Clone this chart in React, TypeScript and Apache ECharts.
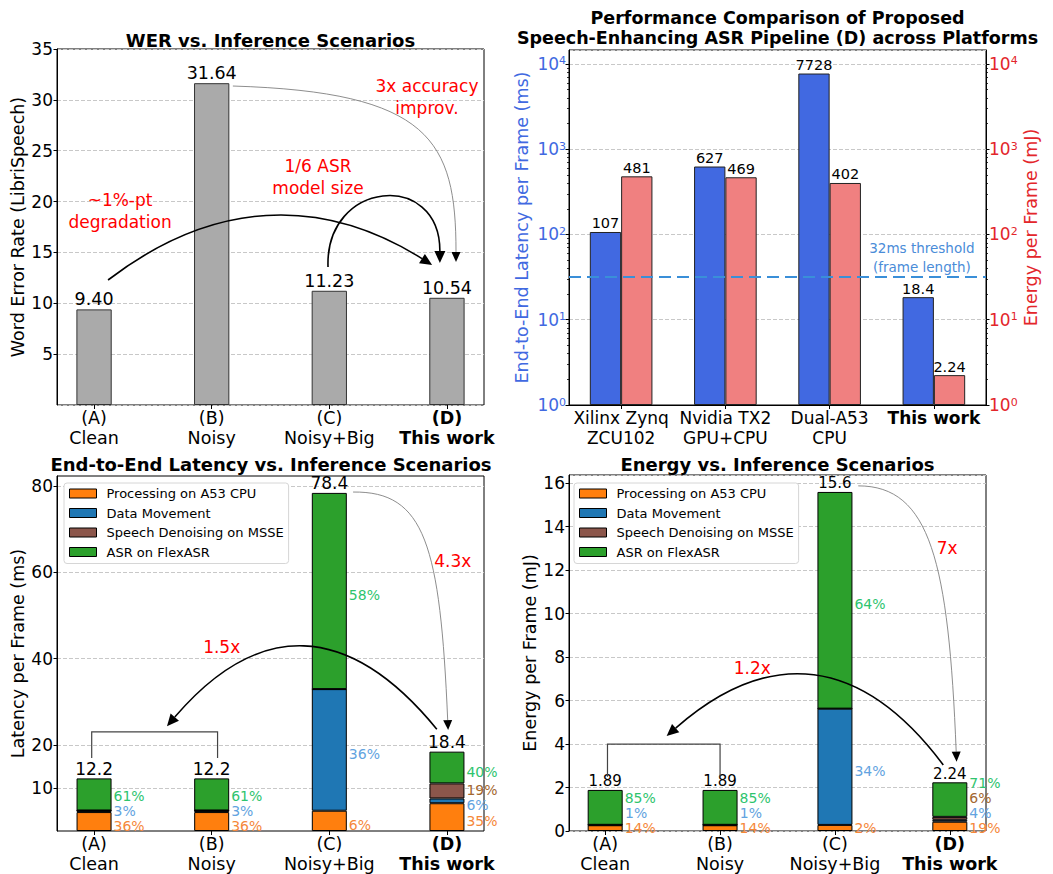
import React, { useEffect, useRef } from 'react';
import * as echarts from 'echarts';

const FONT = 'DejaVu Sans';

// ---------------- data ----------------
const scenarioCodes = ['(A)', '(B)', '(C)', '(D)'];
const scenarioNames = ['Clean', 'Noisy', 'Noisy+Big', 'This work'];
const werValues = [9.40, 31.64, 11.23, 10.54];

const platformNames = ['Xilinx Zynq\nZCU102', 'Nvidia TX2\nGPU+CPU', 'Dual-A53\nCPU', 'This work'];
const platformLatencyMs = [107, 627, 7728, 18.4];
const platformEnergyMj = [481, 469, 402, 2.24];
const frameThresholdMs = 32;

const componentNames = ['Processing on A53 CPU', 'Data Movement', 'Speech Denoising on MSSE', 'ASR on FlexASR'];
const latencyCpu = [4.39, 4.39, 4.70, 6.44];
const latencyMove = [0.37, 0.37, 28.2, 1.10];
const latencyDenoise = [0, 0, 0, 3.50];
const latencyAsr = [7.44, 7.44, 45.5, 7.36];
const latencyTicks = [10, 20, 40, 60, 80];

const energyCpu = [0.265, 0.265, 0.28, 0.426];
const energyMove = [0.019, 0.019, 5.35, 0.09];
const energyDenoise = [0, 0, 0, 0.134];
const energyAsr = [1.606, 1.606, 9.97, 1.59];

const latencyParts = [latencyCpu, latencyMove, latencyDenoise, latencyAsr];
const energyParts = [energyCpu, energyMove, energyDenoise, energyAsr];

// log-axis minor tick positions (2..9 x 10^d)
const logDecades = [1, 10, 100, 1000];
const logMinorMultipliers = [2, 3, 4, 5, 6, 7, 8, 9];
const logMinorTicks = logDecades.flatMap((d) => logMinorMultipliers.map((m) => m * d));

// ---------------- styles / layout ----------------
const componentColors = ['#ff7f0e', '#1f77b4', '#8c564b', '#2ca02c'];
const pctColors = ['#f5883a', '#62a3e0', '#a3672f', '#2ec46e'];
const BLUE = '#4169e1';
const RED = '#e3262b';
const gridLine = { show: true, lineStyle: { color: '#c8c8c8', type: [4, 2], width: 1 } };
const X_MIN = -0.315;
const X_MAX = 3.315;
const LOG_MAX = 14588;

const FRAME_TL = { left: 57, top: 49, width: 427, height: 356 };
const FRAME_TR = { left: 569, top: 50, width: 417, height: 355 };
const FRAME_BL = { left: 57, top: 476, width: 427, height: 355 };
const FRAME_BR = { left: 569, top: 475, width: 417, height: 356 };

// band grid so that category centres fall at 0..3 of the frame's [-0.315, 3.315] range
function bandGrid(f: any) {
  const unit = f.width / (X_MAX - X_MIN);
  const left = f.left + (0 - X_MIN) * unit - unit / 2;
  return { left, top: f.top, width: unit * 4, height: f.height, show: false };
}

// annotations (data coordinates; control offsets in px)
const annotationTexts = [
  { grid: 0, at: [2.83, 30.3], text: '3x accuracy\nimprov.' },
  { grid: 0, at: [0.221, 19.07], text: '~1%-pt\ndegradation' },
  { grid: 0, at: [1.904, 22.37], text: '1/6 ASR\nmodel size' },
  { grid: 2, at: [3.05, 62.6], text: '4.3x' },
  { grid: 2, at: [1.085, 42.6], text: '1.5x' },
  { grid: 3, at: [2.977, 13.04], text: '7x' },
  { grid: 3, at: [1.28, 7.49], text: '1.2x' },
];
const connectors: any[] = [
  { grid: 0, from: [1.18, 31.36], to: [3.077, 14.06], c1: [197, 6], c2: [0, -122], thin: true },
  { grid: 0, from: [0.119, 12.29], to: [2.874, 13.77], bend: 0.347 },
  { grid: 0, from: [1.989, 13.57], to: [2.94, 13.96], c1: [-3, -87], c2: [0, -93] },
  { grid: 2, from: [2.202, 78.6], to: [3.01, 23.4], c1: [72, -1], c2: [-8, -185], thin: true },
  { grid: 2, from: [2.914, 23.6], to: [0.62, 24.3], bend: -0.598 },
  { grid: 3, from: [2.203, 15.88], to: [3.059, 3.19], c1: [72, 0], c2: [-8, -200], thin: true },
  { grid: 3, from: [2.943, 3.04], to: [0.535, 4.37], bend: -0.54 },
];
const brackets = [
  { grid: 2, x: [-0.02, 1.05], top: 23.0, bottom: 16.9 },
  { grid: 3, x: [0.02, 1.0], top: 4.0, bottom: 2.5 },
];

function sumParts(parts: number[][]) {
  return parts[0].map((_, i) => parts.reduce((s, p) => s + p[i], 0));
}

const scenarioCats = scenarioCodes.map((c, i) => c + '\n' + scenarioNames[i]);

function scenarioLabel(_v: string, i: number) {
  if (i === 3) return `{b|${scenarioCodes[i]}}\n{b|${scenarioNames[i]}}`;
  return `${scenarioCodes[i]}\n${scenarioNames[i]}`;
}

function hiddenFrameX(gridIndex: number) {
  return { type: 'value', gridIndex, min: X_MIN, max: X_MAX, show: false, splitLine: { show: false } };
}

function scenarioAxis(gridIndex: number) {
  return {
    type: 'category', gridIndex, data: scenarioCats,
    axisLine: { show: false },
    axisTick: { show: true, alignWithLabel: true, length: 4, lineStyle: { color: '#000' } },
    axisLabel: {
      interval: 0, formatter: scenarioLabel, fontSize: 17.5, color: '#000', lineHeight: 20, margin: 3,
      fontFamily: FONT,
      rich: { b: { fontWeight: 'bold', fontSize: 17.5, lineHeight: 20, fontFamily: FONT, color: '#000' } },
    },
    splitLine: { show: false },
  };
}

function frameY(gridIndex: number, extra: any) {
  return {
    type: 'value', gridIndex,
    axisLine: { show: true, onZero: false, lineStyle: { color: '#000', width: 1 } },
    axisTick: { show: true, length: 3.5, lineStyle: { color: '#000' } },
    axisLabel: { fontSize: 17, color: '#000', margin: 4, fontFamily: FONT },
    splitLine: gridLine,
    nameLocation: 'middle',
    nameTextStyle: { fontSize: 17.5, color: '#000', fontFamily: FONT },
    ...extra,
  };
}

function hiddenY(gridIndex: number, max: number) {
  return { type: 'value', gridIndex, min: 0, max, show: false, splitLine: { show: false } };
}

function logAxis(gridIndex: number, color: string, position: string, name: string, nameGap: number, split: boolean) {
  return {
    type: 'log', logBase: 10, gridIndex, position, min: 1, max: LOG_MAX,
    axisLine: { show: true, onZero: false, lineStyle: { color: '#000', width: 1 } },
    axisTick: { show: true, length: 3.5, lineStyle: { color: '#000' } },
    axisLabel: {
      color, fontSize: 17, margin: 3, fontFamily: FONT, showMaxLabel: false,
      formatter: (v: number) => `10{sup|${Math.round(Math.log10(v))}}`,
      rich: { sup: { fontSize: 11, verticalAlign: 'top', lineHeight: 11, color, fontFamily: FONT } },
    },
    splitLine: split ? gridLine : { show: false },
    name, nameLocation: 'middle', nameGap,
    nameTextStyle: { fontSize: 17.5, color, fontFamily: FONT },
  };
}

function logMinorAxis(gridIndex: number, position: string) {
  return {
    type: 'log', logBase: 10, gridIndex, position, min: 1, max: LOG_MAX,
    axisLine: { show: false, onZero: false },
    axisTick: { show: true, length: 2, customValues: logMinorTicks, lineStyle: { color: '#000', width: 0.8 } },
    axisLabel: { show: false },
    splitLine: { show: false },
  };
}

function stackSeries(xIdx: number, yIdx: number, stackId: string, parts: number[][], offsets: number[][] | null, totalFont: number) {
  const totals = sumParts(parts);
  const list: any[] = parts.map((vals, k) => ({
    type: 'bar', name: componentNames[k], stack: stackId, xAxisIndex: xIdx, yAxisIndex: yIdx, barWidth: 35,
    itemStyle: { color: componentColors[k], borderColor: '#000', borderWidth: 1 },
    label: { show: true, position: 'right', distance: 2, color: pctColors[k], fontSize: 14, fontFamily: FONT },
    data: vals.map((v, i) => ({
      value: v,
      label: { show: v > 0, offset: [0, offsets ? offsets[k][i] : 0], formatter: Math.round((v / totals[i]) * 100) + '%' },
    })),
  }));
  list.push({
    type: 'bar', name: 'total-' + stackId, stack: stackId, xAxisIndex: xIdx, yAxisIndex: yIdx, barWidth: 35,
    itemStyle: { color: 'transparent', borderWidth: 0 },
    label: {
      show: true, position: 'top', distance: 1, color: '#000', fontSize: totalFont, fontFamily: FONT,
      formatter: (p: any) => totals[p.dataIndex].toPrecision(3),
    },
    data: totals.map(() => 0),
  });
  return list;
}

function legendAt(left: number) {
  return {
    data: componentNames, orient: 'vertical', left, top: 483, icon: 'rect',
    itemWidth: 27, itemHeight: 9, itemGap: 4.5,
    backgroundColor: '#fff', borderColor: '#d6d6d6', borderWidth: 1, borderRadius: 3,
    padding: [3, 5, 4, 5],
    textStyle: { fontSize: 13, color: '#000', fontFamily: FONT, lineHeight: 15, padding: [0, 0, 0, 5] },
    itemStyle: { borderColor: '#000', borderWidth: 1 },
    selectedMode: false,
  };
}

function buildOption(offsets: any, graphics: any[]) {
  const frame = (f: any) => ({ ...f, show: true, borderColor: '#000', borderWidth: 1 });
  return {
    animation: false,
    textStyle: { fontFamily: FONT },
    grid: [
      frame(FRAME_TL), frame(FRAME_TR), frame(FRAME_BL), frame(FRAME_BR),
      bandGrid(FRAME_TL), bandGrid(FRAME_BL), bandGrid(FRAME_BR),
    ],
    legend: [legendAt(64), legendAt(574)],
    xAxis: [
      hiddenFrameX(0),
      {
        type: 'category', gridIndex: 1, data: platformNames,
        axisLine: { show: true, lineStyle: { color: '#000', width: 1 } },
        axisTick: { show: true, alignWithLabel: true, length: 4, lineStyle: { color: '#000' } },
        axisLabel: {
          interval: 0, fontSize: 17, color: '#000', lineHeight: 20, margin: 3, fontFamily: FONT,
          formatter: (v: string, i: number) => (i === 3 ? `{b|${v}}` : v),
          rich: { b: { fontWeight: 'bold', fontSize: 17, lineHeight: 20, fontFamily: FONT, color: '#000' } },
        },
        splitLine: { show: false },
      },
      hiddenFrameX(2),
      hiddenFrameX(3),
      scenarioAxis(4),
      scenarioAxis(5),
      scenarioAxis(6),
    ],
    yAxis: [
      frameY(0, { min: 0, max: 35, interval: 5,
        axisLabel: { fontSize: 17, color: '#000', margin: 4, fontFamily: FONT, showMinLabel: false },
        name: 'Word Error Rate (LibriSpeech)', nameGap: 30 }),
      logAxis(1, BLUE, 'left', 'End-to-End Latency per Frame (ms)', 38, true),
      logAxis(1, RED, 'right', 'Energy per Frame (mJ)', 35, false),
      frameY(2, {
        min: 0, max: 82.32,
        axisTick: { show: true, length: 3.5, customValues: latencyTicks, lineStyle: { color: '#000' } },
        axisLabel: { fontSize: 17, color: '#000', margin: 4, fontFamily: FONT, customValues: latencyTicks },
        name: 'Latency per Frame (ms)', nameGap: 30,
      }),
      frameY(3, { min: 0, max: 16.38, interval: 2,
        axisLabel: { fontSize: 17, color: '#000', margin: 4, fontFamily: FONT, showMaxLabel: false },
        name: 'Energy per Frame (mJ)', nameGap: 30 }),
      hiddenY(4, 35),
      hiddenY(5, 82.32),
      hiddenY(6, 16.38),
      logMinorAxis(1, 'left'),
      logMinorAxis(1, 'right'),
    ],
    series: [
      {
        type: 'bar', name: 'WER', xAxisIndex: 4, yAxisIndex: 5, barWidth: 35.3,
        itemStyle: { color: '#aaaaaa', borderColor: '#333', borderWidth: 1 },
        label: { show: true, position: 'top', distance: 1, fontSize: 17.5, color: '#000', fontFamily: FONT,
          formatter: (p: any) => Number(p.value).toFixed(2) },
        data: werValues,
      },
      {
        type: 'bar', name: 'Latency', xAxisIndex: 1, yAxisIndex: 1, barWidth: 31.3, barGap: '0%',
        itemStyle: { color: BLUE, borderColor: '#222', borderWidth: 1 },
        label: { show: true, position: 'top', distance: 1, fontSize: 14.5, color: '#000', fontFamily: FONT,
          formatter: (p: any) => String(p.value) },
        data: platformLatencyMs,
        markLine: {
          silent: true, symbol: 'none', label: { show: false },
          lineStyle: { color: '#3a8fd8', type: [12, 6], width: 2 },
          data: [{ yAxis: frameThresholdMs }],
        },
      },
      {
        type: 'bar', name: 'Energy', xAxisIndex: 1, yAxisIndex: 2, barWidth: 31.3, barGap: '0%',
        itemStyle: { color: '#f08080', borderColor: '#222', borderWidth: 1 },
        label: { show: true, position: 'top', distance: 1, fontSize: 14.5, color: '#000', fontFamily: FONT,
          formatter: (p: any) => String(p.value) },
        data: platformEnergyMj,
      },
      ...stackSeries(5, 6, 'lat', latencyParts, offsets ? offsets.lat : null, 17),
      ...stackSeries(6, 7, 'en', energyParts, offsets ? offsets.en : null, 15),
    ],
    graphic: graphics,
  };
}

function computeOffsets(chart: any, gridIndex: number, parts: number[][]) {
  const offsets = parts.map((p) => p.map(() => 0));
  for (let i = 0; i < parts[0].length; i++) {
    let cum = 0;
    let prevY = Infinity;
    const bottom = chart.convertToPixel({ gridIndex }, [i, 0])[1];
    for (let k = 0; k < parts.length; k++) {
      const v = parts[k][i];
      if (v <= 0) continue;
      const center = chart.convertToPixel({ gridIndex }, [i, cum + v / 2])[1];
      cum += v;
      let y = Math.min(center + 4, bottom - 3);
      if (prevY !== Infinity) y = Math.min(y, prevY - 15);
      offsets[k][i] = y - center;
      prevY = y;
    }
  }
  return offsets;
}

function arrow(p0: number[], c1: number[], c2: number[], p1: number[], color: string, width: number, headLen: number, headW: number) {
  const dx = p1[0] - c2[0];
  const dy = p1[1] - c2[1];
  const L = Math.hypot(dx, dy) || 1;
  const ux = dx / L, uy = dy / L;
  const bx = p1[0] - ux * headLen, by = p1[1] - uy * headLen;
  return [
    {
      type: 'bezierCurve', silent: true, z: 100,
      shape: { x1: p0[0], y1: p0[1], x2: bx, y2: by, cpx1: c1[0], cpy1: c1[1], cpx2: c2[0], cpy2: c2[1] },
      style: { stroke: color, lineWidth: width, fill: 'none' },
    },
    {
      type: 'polygon', silent: true, z: 101,
      shape: { points: [[p1[0], p1[1]], [bx - (uy * headW) / 2, by + (ux * headW) / 2], [bx + (uy * headW) / 2, by - (ux * headW) / 2]] },
      style: { fill: '#000' },
    },
  ];
}

function buildGraphics(chart: any) {
  const px = (g: number, pt: number[]) => chart.convertToPixel({ gridIndex: g }, pt) as number[];
  const out: any[] = [];
  const title = (x: number, y: number, text: string, size: number) =>
    out.push({ type: 'text', x, y, z: 100, silent: true,
      style: { text, fontSize: size, fontWeight: 'bold', fontFamily: FONT, fill: '#000', align: 'center', verticalAlign: 'middle' } });
  title(270.5, 40, 'WER vs. Inference Scenarios', 18);
  title(777.5, 18, 'Performance Comparison of Proposed', 17.5);
  title(777.5, 37.5, 'Speech-Enhancing ASR Pipeline (D) across Platforms', 17.5);
  title(271, 464.5, 'End-to-End Latency vs. Inference Scenarios', 18);
  title(777.5, 464.5, 'Energy vs. Inference Scenarios', 18);

  annotationTexts.forEach((a) => {
    const p = px(a.grid, a.at);
    out.push({ type: 'text', x: p[0], y: p[1], z: 100, silent: true,
      style: { text: a.text, fontSize: 17, fontFamily: FONT, fill: '#ff0000', align: 'center', verticalAlign: 'middle', lineHeight: 22 } });
  });

  connectors.forEach((c) => {
    const p0 = px(c.grid, c.from);
    const p1 = px(c.grid, c.to);
    let c1: number[], c2: number[];
    if (c.bend !== undefined) {
      const mx = (p0[0] + p1[0]) / 2, my = (p0[1] + p1[1]) / 2;
      const dx = p1[0] - p0[0], dy = p1[1] - p0[1];
      const q = [mx + c.bend * dy, my - c.bend * dx];
      c1 = [p0[0] + (2 / 3) * (q[0] - p0[0]), p0[1] + (2 / 3) * (q[1] - p0[1])];
      c2 = [p1[0] + (2 / 3) * (q[0] - p1[0]), p1[1] + (2 / 3) * (q[1] - p1[1])];
    } else {
      c1 = [p0[0] + c.c1[0], p0[1] + c.c1[1]];
      c2 = [p1[0] + c.c2[0], p1[1] + c.c2[1]];
    }
    if (c.thin) out.push(...arrow(p0, c1, c2, p1, '#808080', 0.9, 10, 9));
    else out.push(...arrow(p0, c1, c2, p1, '#000', 1.6, 12, 11));
  });

  brackets.forEach((b) => {
    const pts = [px(b.grid, [b.x[0], b.bottom]), px(b.grid, [b.x[0], b.top]), px(b.grid, [b.x[1], b.top]), px(b.grid, [b.x[1], b.bottom])];
    out.push({ type: 'polyline', z: 100, silent: true, shape: { points: pts }, style: { stroke: '#444', lineWidth: 1.2, fill: 'none' } });
  });

  const ty = chart.convertToPixel({ yAxisIndex: 1 }, frameThresholdMs) as number;
  const tx = (chart.convertToPixel({ xAxisIndex: 1 }, platformNames[3]) as number) - 12;
  out.push({ type: 'text', x: tx, y: ty, z: 100, silent: true,
    style: { text: '32ms threshold\n(frame length)', fontSize: 13.5, fontFamily: FONT, fill: '#4a8cd8', align: 'center', verticalAlign: 'bottom', lineHeight: 19 } });
  return out;
}

export default function App() {
  const ref = useRef<HTMLDivElement>(null);
  useEffect(() => {
    const chart = echarts.init(ref.current!, undefined, { renderer: 'svg' });
    chart.setOption(buildOption(null, []) as any);
    const lat = computeOffsets(chart, 2, latencyParts);
    const en = computeOffsets(chart, 3, energyParts);
    const graphics = buildGraphics(chart);
    chart.setOption(buildOption({ lat, en }, graphics) as any, true);
    return () => chart.dispose();
  }, []);
  return <div ref={ref} style={{ position: 'absolute', left: 0, top: 0, width: 1053, height: 874, background: '#fff' }} />;
}
